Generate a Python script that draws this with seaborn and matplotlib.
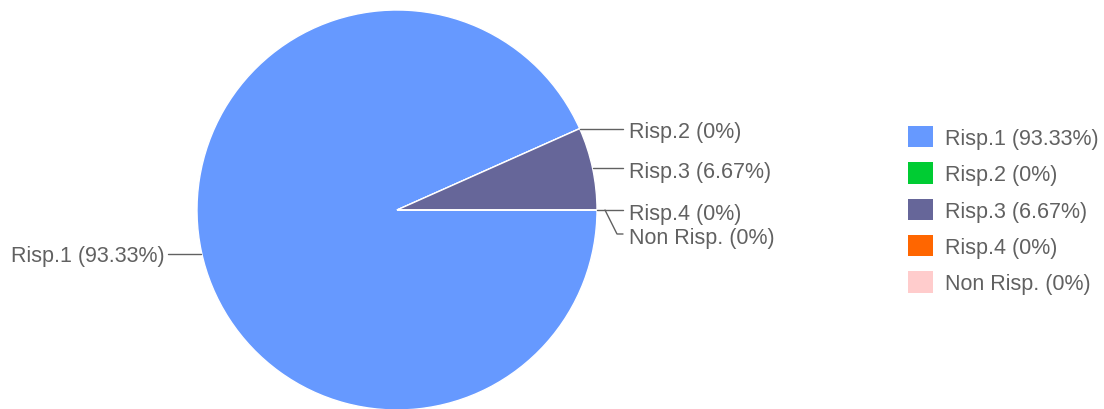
"""
Grafico a torta delle risposte (Risp.1 ... Non Risp.) con etichette esterne e legenda a destra.
Salva: out.png
"""

import numpy as np
import matplotlib.pyplot as plt
import seaborn as sns

risposte = ["Risp.1", "Risp.2", "Risp.3", "Risp.4", "Non Risp."]
percentuali = [93.33, 0, 6.67, 0, 0]
colori = ["#6699ff", "#00cc33", "#666699", "#ff6600", "#ffcccc"]

etichette = [f"{r} ({p:g}%)" for r, p in zip(risposte, percentuali)]

sns.set_theme(style="white")
plt.rcParams["font.family"] = ["Liberation Sans", "DejaVu Sans"]

GRIGIO = "#616161"
W, H = 1104, 410


def main():
    fig = plt.figure(figsize=(W / 100, H / 100), dpi=100)
    ax = fig.add_axes([0, 0, 1, 1])

    # ---------- torta ----------
    cx, cy, r = 397, H - 211, 200
    wedges, _ = ax.pie(
        percentuali,
        colors=colori,
        center=(cx, cy),
        radius=r,
        startangle=0,
        counterclock=False,
        wedgeprops=dict(edgecolor="white", linewidth=1),
    )
    ax.set_xlim(0, W)
    ax.set_ylim(0, H)
    ax.set_aspect("equal")
    ax.axis("off")

    # ---------- etichette esterne ----------
    x_linea_dx, x_testo_dx = 623, 629
    x_linea_sx, x_testo_sx = 168, 165
    gia_usati = {}
    for w, testo in zip(wedges, etichette):
        mid = np.deg2rad((w.theta1 + w.theta2) / 2)
        ax_x = cx + r * np.cos(mid)
        ax_y = cy + r * np.sin(mid)
        chiave = round(np.rad2deg(mid) % 360, 1)
        n = gia_usati.get(chiave, 0)
        gia_usati[chiave] = n + 1

        if ax_x >= cx:
            if n == 0:
                ax.plot([ax_x, x_linea_dx], [ax_y, ax_y], color=GRIGIO, lw=1)
                y_t = ax_y
            else:
                y_t = ax_y - 24 * n
                ax.plot([ax_x + 8, x_linea_dx - 6, x_linea_dx],
                        [ax_y, y_t, y_t], color=GRIGIO, lw=1)
            ax.text(x_testo_dx, y_t - 3, testo, ha="left", va="center",
                    fontsize=15.5, color=GRIGIO)
        else:
            ax.plot([ax_x, x_linea_sx], [ax_y - 2, ax_y - 2], color=GRIGIO, lw=1)
            ax.text(x_testo_sx, ax_y - 4, testo, ha="right", va="center",
                    fontsize=15.5, color=GRIGIO)

    # ---------- legenda ----------
    handles = [plt.Rectangle((0, 0), 1, 1, facecolor=c, edgecolor="none") for c in colori]
    leg = ax.legend(
        handles, etichette,
        loc="upper left",
        bbox_to_anchor=(908, H - 127),
        bbox_transform=ax.transData,
        frameon=False,
        fontsize=15.5,
        handlelength=1.15,
        handleheight=1.15,
        handletextpad=0.55,
        labelspacing=0.62,
        borderpad=0,
        borderaxespad=0,
    )
    for t in leg.get_texts():
        t.set_color(GRIGIO)

    fig.savefig("out.png", dpi=100)
    plt.close(fig)


if __name__ == "__main__":
    main()
